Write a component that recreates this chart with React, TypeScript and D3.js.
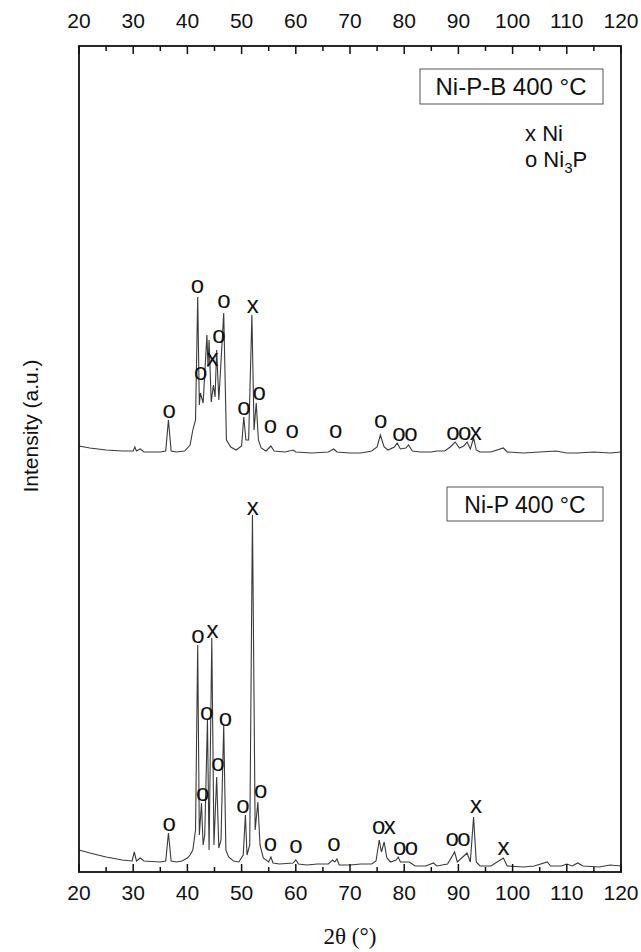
import React from "react";
import * as d3 from "d3";

// ---- data (2θ in degrees, intensity in a.u.) ----
const lowerTheta = [20, 22, 25, 28, 29.8, 30.2, 30.6, 31.3, 32, 35, 36.0, 36.5, 37.0, 38, 39, 40, 40.5, 41.0, 41.5, 41.9, 42.2, 42.6, 42.9, 43.2, 43.7, 44.0, 44.5, 44.9, 45.4, 45.8, 46.2, 46.7, 47.1, 47.6, 48.5, 49.5, 50.3, 50.7, 51.0, 51.5, 52.0, 52.5, 53.0, 53.4, 54, 55, 55.4, 55.8, 57, 59.5, 60, 60.5, 62, 64, 66, 66.8, 67.2, 67.6, 68, 70, 72, 74, 74.8, 75.4, 75.8, 76.3, 76.8, 77.5, 78.5, 78.9, 79.3, 80.3, 80.9, 81.5, 82, 84, 85.4, 86, 88, 89.3, 89.8, 91.0, 91.6, 92.2, 92.8, 93.3, 94, 96, 98.3, 99, 102, 104, 106.4, 107, 109, 110, 111, 112, 113, 116, 118, 120];
const lowerIntensity = [22, 19, 15, 12, 11, 20, 11, 14, 11, 10, 11, 39, 11, 10, 11, 14, 17, 22, 42, 227, 37, 69, 27, 37, 152, 22, 234, 27, 95, 24, 32, 147, 22, 15, 11, 10, 17, 57, 17, 27, 357, 42, 70, 27, 14, 10, 15, 9, 8, 9, 12, 8, 7, 8, 8, 12, 10, 13, 7, 7, 8, 8, 11, 32, 20, 30, 14, 10, 12, 15, 10, 10, 10, 8, 6, 6, 9, 6, 8, 20, 10, 16, 19, 10, 55, 10, 6, 6, 14, 6, 5, 6, 10, 6, 6, 8, 6, 9, 6, 5, 7, 6];

const upperTheta = [20, 22, 25, 28, 30, 30.3, 30.6, 31.3, 32, 35, 36.0, 36.5, 37.0, 38, 39.5, 40.5, 41.0, 41.5, 41.9, 42.2, 42.4, 42.9, 43.6, 43.8, 44.0, 44.4, 44.8, 45.1, 45.4, 45.8, 46.3, 46.7, 47.2, 48, 49, 50, 50.4, 50.8, 51.3, 51.9, 52.3, 52.7, 53.1, 53.6, 54.5, 55.4, 56, 58, 59.5, 60, 63, 66, 67, 67.6, 70, 72, 74, 75.0, 75.6, 76.3, 77, 78.2, 78.7, 79.3, 80.3, 80.8, 81.5, 83, 85, 86, 87.5, 88.5, 89.4, 90.2, 91, 91.6, 92.2, 92.8, 93.3, 94, 96, 98.3, 99, 102, 105, 108, 110, 112, 115, 118, 120];
const upperIntensity = [16, 14, 12, 11, 11, 15, 11, 13, 10, 10, 11, 42, 11, 10, 11, 17, 32, 42, 165, 57, 69, 59, 127, 95, 122, 60, 77, 65, 112, 62, 110, 149, 22, 15, 12, 16, 45, 22, 22, 147, 32, 59, 22, 14, 11, 16, 11, 10, 12, 10, 9, 10, 13, 10, 9, 9, 11, 15, 27, 15, 12, 15, 19, 13, 14, 17, 11, 10, 10, 11, 11, 15, 20, 14, 16, 20, 13, 24, 12, 10, 10, 14, 10, 9, 10, 11, 9, 9, 10, 9, 10];
const upperOffset = 410;

// peak annotations: phase letters (touching neighbours grouped), centre 2θ, label height (a.u.)
const lowerMarks = ["o", "o", "o", "o", "x", "o", "o", "x", "o", "o", "o", "o", "o", "ox", "oo", "oo", "x", "x"];
const lowerMarkTheta = [36.5, 41.8, 42.7, 43.4, 44.5, 45.5, 46.9, 51.9, 50.1, 53.4, 55.2, 59.9, 66.9, 76.1, 80.1, 89.8, 93.1, 98.2];
const lowerMarkHeight = [49, 237, 79, 160, 242, 109, 154, 365, 67, 82, 29, 27, 29, 46, 25, 34, 67, 25];

const upperMarks = ["o", "o", "o", "x", "o", "o", "x", "o", "o", "o", "o", "o", "o", "oo", "oox"];
const upperMarkTheta = [36.5, 41.7, 42.3, 44.5, 45.7, 46.6, 51.9, 50.3, 53.1, 55.2, 59.2, 67.2, 75.5, 80.0, 90.9];
const upperMarkHeight = [52, 177, 90, 104, 127, 162, 157, 55, 70, 37, 32, 32, 42, 29, 30];

const sampleLabels = ["Ni-P-B 400 °C", "Ni-P 400 °C"];
const legendSymbols = ["x", "o"];
const legendPhases = ["Ni", "Ni3P"];

const xTickValues = [20, 30, 40, 50, 60, 70, 80, 90, 100, 110, 120];

export default function App() {
  const W = 641, H = 952;
  const left = 79, right = 621, top = 46, bottom = 872;
  const x = d3.scaleLinear().domain([20, 120]).range([left, right]);
  const y = d3.scaleLinear().domain([0, bottom - top]).range([bottom, top]);

  const lowerData = lowerTheta.map((t, i) => [t, lowerIntensity[i]] as [number, number]);
  const upperData = upperTheta.map((t, i) => [t, upperIntensity[i] + upperOffset] as [number, number]);
  const line = d3.line<[number, number]>().x(d => x(d[0])).y(d => y(d[1]));

  const minorTicks = d3.range(25, 120, 10);
  const font = "'Liberation Sans', Arial, sans-serif";
  const lineColor = "#3a3a3a";
  const markSpacing = -1.5;

  return (
    <div style={{ position: "absolute", left: 0, top: 0 }}>
      <svg width={W} height={H} style={{ display: "block", background: "#fff" }}>
        <rect x={0} y={0} width={W} height={H} fill="#fff" />
        {/* patterns */}
        <path d={line(lowerData) || ""} fill="none" stroke={lineColor} strokeWidth={1.1} />
        <path d={line(upperData) || ""} fill="none" stroke={lineColor} strokeWidth={1.1} />

        {/* peak marks */}
        {lowerMarks.map((m, i) => (
          <text key={"lm" + i} x={x(lowerMarkTheta[i])} y={y(lowerMarkHeight[i])} dy="0.32em" textAnchor="middle"
            fontFamily={font} fontSize={24} letterSpacing={markSpacing} fill="#111">{m}</text>
        ))}
        {upperMarks.map((m, i) => (
          <text key={"um" + i} x={x(upperMarkTheta[i])} y={y(upperMarkHeight[i] + upperOffset)} dy="0.32em" textAnchor="middle"
            fontFamily={font} fontSize={24} letterSpacing={markSpacing} fill="#111">{m}</text>
        ))}

        {/* frame */}
        <rect x={left} y={top} width={right - left} height={bottom - top} fill="none" stroke="#111" strokeWidth={1.8} />

        {/* ticks */}
        {x.ticks(10).map(t => (
          <g key={"t" + t}>
            <line x1={x(t)} x2={x(t)} y1={top} y2={top + 8} stroke="#111" strokeWidth={1.5} />
            <line x1={x(t)} x2={x(t)} y1={bottom} y2={bottom - 8} stroke="#111" strokeWidth={1.5} />
          </g>
        ))}
        {minorTicks.map(t => (
          <g key={"m" + t}>
            <line x1={x(t)} x2={x(t)} y1={top} y2={top + 5} stroke="#111" strokeWidth={1.5} />
            <line x1={x(t)} x2={x(t)} y1={bottom} y2={bottom - 5} stroke="#111" strokeWidth={1.5} />
          </g>
        ))}
        {xTickValues.map(t => (
          <g key={"l" + t}>
            <text x={x(t)} y={28} textAnchor="middle" fontFamily={font} fontSize={21} fill="#111">{t}</text>
            <text x={x(t)} y={900} textAnchor="middle" fontFamily={font} fontSize={21} fill="#111">{t}</text>
          </g>
        ))}

        {/* axis titles */}
        <text x={350} y={944} textAnchor="middle" fontFamily="'Liberation Serif', 'Times New Roman', serif" fontSize={23} fill="#111">2θ (°)</text>
        <text transform={`translate(38,${426}) rotate(-90)`} textAnchor="middle" fontFamily={font} fontSize={21} fill="#111">Intensity (a.u.)</text>

        {/* sample labels */}
        <rect x={420} y={69} width={183} height={35} fill="#fff" stroke="#555" strokeWidth={1} />
        <text x={511} y={95} textAnchor="middle" fontFamily={font} fontSize={24} fill="#111">{sampleLabels[0]}</text>
        <rect x={447} y={487} width={156} height={34} fill="#fff" stroke="#555" strokeWidth={1} />
        <text x={525} y={513} textAnchor="middle" fontFamily={font} fontSize={23} fill="#111">{sampleLabels[1]}</text>

        {/* legend */}
        <text x={525} y={141} fontFamily={font} fontSize={22} fill="#111">{legendSymbols[0]} {legendPhases[0]}</text>
        <text x={525} y={167} fontFamily={font} fontSize={22} fill="#111">{legendSymbols[1]} Ni<tspan dy={6} fontSize={15}>3</tspan><tspan dy={-6}>P</tspan></text>
      </svg>
    </div>
  );
}
